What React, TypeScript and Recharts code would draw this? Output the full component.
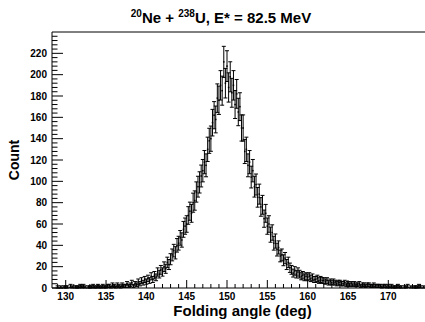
import React from "react";
import { ScatterChart, Scatter, XAxis, YAxis, ErrorBar, ReferenceLine } from "recharts";

// bin centres (deg), 0.2 deg bins
const angles = [
  129.0, 129.2, 129.4, 129.6, 129.8,
  130.0, 130.2, 130.4, 130.6, 130.8,
  131.0, 131.2, 131.4, 131.6, 131.8,
  132.0, 132.2, 132.4, 132.6, 132.8,
  133.0, 133.2, 133.4, 133.6, 133.8,
  134.0, 134.2, 134.4, 134.6, 134.8,
  135.0, 135.2, 135.4, 135.6, 135.8,
  136.0, 136.2, 136.4, 136.6, 136.8,
  137.0, 137.2, 137.4, 137.6, 137.8,
  138.0, 138.2, 138.4, 138.6, 138.8,
  139.0, 139.2, 139.4, 139.6, 139.8,
  140.0, 140.2, 140.4, 140.6, 140.8,
  141.0, 141.2, 141.4, 141.6, 141.8,
  142.0, 142.2, 142.4, 142.6, 142.8,
  143.0, 143.2, 143.4, 143.6, 143.8,
  144.0, 144.2, 144.4, 144.6, 144.8,
  145.0, 145.2, 145.4, 145.6, 145.8,
  146.0, 146.2, 146.4, 146.6, 146.8,
  147.0, 147.2, 147.4, 147.6, 147.8,
  148.0, 148.2, 148.4, 148.6, 148.8,
  149.0, 149.2, 149.4, 149.6, 149.8,
  150.0, 150.2, 150.4, 150.6, 150.8,
  151.0, 151.2, 151.4, 151.6, 151.8,
  152.0, 152.2, 152.4, 152.6, 152.8,
  153.0, 153.2, 153.4, 153.6, 153.8,
  154.0, 154.2, 154.4, 154.6, 154.8,
  155.0, 155.2, 155.4, 155.6, 155.8,
  156.0, 156.2, 156.4, 156.6, 156.8,
  157.0, 157.2, 157.4, 157.6, 157.8,
  158.0, 158.2, 158.4, 158.6, 158.8,
  159.0, 159.2, 159.4, 159.6, 159.8,
  160.0, 160.2, 160.4, 160.6, 160.8,
  161.0, 161.2, 161.4, 161.6, 161.8,
  162.0, 162.2, 162.4, 162.6, 162.8,
  163.0, 163.2, 163.4, 163.6, 163.8,
  164.0, 164.2, 164.4, 164.6, 164.8,
  165.0, 165.2, 165.4, 165.6, 165.8,
  166.0, 166.2, 166.4, 166.6, 166.8,
  167.0, 167.2, 167.4, 167.6, 167.8,
  168.0, 168.2, 168.4, 168.6, 168.8,
  169.0, 169.2, 169.4, 169.6, 169.8,
  170.0, 170.2, 170.4, 170.6, 170.8,
  171.0, 171.2, 171.4, 171.6, 171.8,
  172.0, 172.2, 172.4, 172.6, 172.8,
  173.0, 173.2, 173.4, 173.6, 173.8,
  174.0, 174.2, 174.4,
];

const counts = [
  1, 0, 1, 0, 1,
  1, 1, 0, 2, 1,
  0, 1, 1, 1, 2,
  1, 2, 1, 0, 1,
  1, 1, 2, 1, 1,
  2, 1, 1, 2, 1,
  1, 2, 2, 1, 3,
  2, 1, 3, 2, 1,
  3, 2, 2, 4, 2,
  3, 5, 2, 4, 3,
  6, 4, 7, 5, 8,
  6, 9, 7, 11, 8,
  12, 10, 15, 13, 17,
  15, 20, 18, 24, 22,
  27, 31, 35, 33, 40,
  42, 47, 45, 55, 58,
  60, 68, 72, 70, 80,
  82, 90, 95, 99, 105,
  110, 118, 115, 130, 138,
  140, 155, 162, 158, 178,
  176, 190, 185, 212, 192,
  208, 188, 198, 183, 190,
  172, 182, 165, 170, 150,
  150, 128, 130, 115, 118,
  104, 110, 95, 97, 85,
  88, 76, 78, 65, 70,
  58, 60, 50, 52, 42,
  44, 36, 38, 30, 31,
  26, 28, 22, 24, 19,
  17, 14, 16, 13, 15,
  13, 11, 12, 10, 11,
  10, 11, 9, 10, 8,
  8, 9, 7, 8, 7,
  7, 6, 7, 5, 6,
  5, 6, 5, 4, 5,
  5, 4, 4, 5, 3,
  4, 3, 4, 3, 4,
  3, 3, 4, 2, 3,
  3, 2, 3, 3, 2,
  2, 3, 2, 2, 2,
  2, 1, 2, 2, 1,
  2, 1, 2, 1, 1,
  1, 2, 1, 1, 0,
  1, 1, 2, 0, 1,
  0, 1, 1, 1, 2,
  1, 0, 1,
];

const xTicks = [
  129, 130, 131, 132, 133, 134, 135, 136, 137, 138, 139, 140, 141, 142, 143, 144, 145,
  146, 147, 148, 149, 150, 151, 152, 153, 154, 155, 156, 157, 158, 159, 160, 161, 162,
  163, 164, 165, 166, 167, 168, 169, 170, 171, 172, 173, 174,
];
const xLabels = [130, 135, 140, 145, 150, 155, 160, 165, 170];

const yTicks = [
  0, 4, 8, 12, 16, 20, 24, 28, 32, 36, 40, 44, 48, 52, 56, 60, 64, 68, 72, 76, 80, 84,
  88, 92, 96, 100, 104, 108, 112, 116, 120, 124, 128, 132, 136, 140, 144, 148, 152, 156,
  160, 164, 168, 172, 176, 180, 184, 188, 192, 196, 200, 204, 208, 212, 216, 220, 224,
  228, 232, 236,
];
const yLabels = [0, 20, 40, 60, 80, 100, 120, 140, 160, 180, 200, 220];

// poisson errors, like the histogram; empty bins are not drawn
const data = angles
  .map((a, i) => ({ angle: a, count: counts[i], err: Math.sqrt(counts[i]) }))
  .filter((d) => d.count > 0);

const font = "'Liberation Sans', Arial, Helvetica, sans-serif";

const XTick = (props: any) => {
  const { x, y, payload } = props;
  const major = xLabels.includes(payload.value);
  return (
    <g>
      <line x1={x} y1={y} x2={x} y2={y - (major ? 8 : 4)} stroke="#000" />
      {major && (
        <text x={x} y={y + 12} textAnchor="middle" fontSize={10} fontWeight="bold" fontFamily={font} fill="#000">
          {payload.value}
        </text>
      )}
    </g>
  );
};

const YTick = (props: any) => {
  const { x, y, payload } = props;
  const major = yLabels.includes(payload.value);
  return (
    <g>
      <line x1={x} y1={y} x2={x + (major ? 11 : 5.5)} y2={y} stroke="#000" />
      {major && (
        <text x={x - 5} y={y + 3.5} textAnchor="end" fontSize={10} fontWeight="bold" fontFamily={font} fill="#000">
          {payload.value}
        </text>
      )}
    </g>
  );
};

const Dot = (p: any) => <rect x={p.cx - 0.75} y={p.cy - 0.75} width={1.5} height={1.5} fill="#000" />;

export default function App() {
  return (
    <div style={{ position: "absolute", left: 0, top: 0, width: 425, height: 322, background: "#fff", fontFamily: font }}>
      <div
        style={{
          position: "absolute", left: 0, width: 442, top: 5, textAlign: "center",
          fontSize: 15, fontWeight: "bold", lineHeight: "18px",
        }}
      >
        <sup style={{ fontSize: 10 }}>20</sup>Ne + <sup style={{ fontSize: 10 }}>238</sup>U, E* = 82.5 MeV
      </div>
      <div
        style={{
          position: "absolute", left: 14, top: 160, transform: "translate(-50%, -50%) rotate(-90deg)",
          fontSize: 14, fontWeight: "bold", whiteSpace: "nowrap",
        }}
      >
        Count
      </div>
      <div
        style={{
          position: "absolute", left: 56, width: 373, top: 302, textAlign: "center",
          fontSize: 15, fontWeight: "bold", whiteSpace: "nowrap", lineHeight: "18px",
        }}
      >
        Folding angle (deg)
      </div>
      <ScatterChart width={425} height={322} margin={{ top: 32, right: 0, bottom: 0, left: 0 }}>
        <XAxis
          type="number" dataKey="angle" domain={[128.3, 174.55]} ticks={xTicks} interval={0}
          allowDataOverflow height={34} tickSize={0} tickMargin={0} tick={<XTick />}
          axisLine={{ stroke: "#000" }} tickLine={false}
        />
        <YAxis
          type="number" dataKey="count" domain={[0, 240]} ticks={yTicks} interval={0}
          allowDataOverflow width={52} tickSize={0} tickMargin={0} tick={<YTick />}
          axisLine={{ stroke: "#000" }} tickLine={false}
        />
        <ReferenceLine y={240} stroke="#000" />
        <Scatter data={data} shape={<Dot />} isAnimationActive={false}>
          <ErrorBar dataKey="err" direction="y" width={2} stroke="#000" strokeWidth={1} isAnimationActive={false} />
        </Scatter>
      </ScatterChart>
    </div>
  );
}
